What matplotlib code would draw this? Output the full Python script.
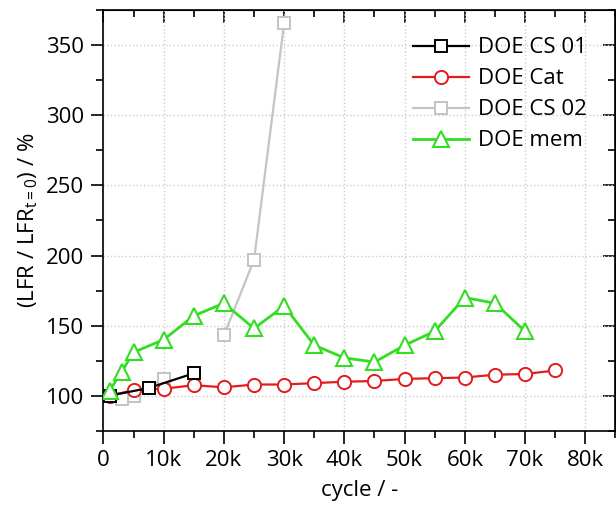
import numpy as np
import matplotlib.pyplot as plt
from matplotlib.ticker import MultipleLocator, FuncFormatter

plt.rcParams['font.family'] = ['Open Sans', 'DejaVu Sans']
plt.rcParams['mathtext.fontset'] = 'custom'
plt.rcParams['mathtext.rm'] = 'Open Sans'
plt.rcParams['mathtext.it'] = 'Open Sans'

# ─── datos ─────────────────────────────────────────────────
cs01_x = [1000, 7500, 15000]
cs01_y = [100, 105.5, 116]

cat_x = [1000, 5000, 10000, 15000, 20000, 25000, 30000, 35000, 40000,
         45000, 50000, 55000, 60000, 65000, 70000, 75000]
cat_y = [100, 104, 105, 107.5, 106, 108, 108, 109, 110,
         110.5, 112, 112.5, 113, 115, 115.5, 118]

cs02_x = [3000, 5000, 10000, 15000, 20000, 25000, 30000]
cs02_y = [98, 100, 112, np.nan, 143, 197, 366]

mem_x = [1000, 3000, 5000, 10000, 15000, 20000, 25000, 30000, 35000,
         40000, 45000, 50000, 55000, 60000, 65000, 70000]
mem_y = [103.5, 117, 131, 140, 157, 166, 148, 164, 136,
         127, 124, 136, 146, 170, 166, 146]

fig = plt.figure(figsize=(6.16, 5.08), dpi=100)
ax = fig.add_axes([0.168, 0.152, 0.831, 0.828])

estilo = dict(lw=1.6, ms=9, mew=1.4, mfc='white')
ax.plot(cs01_x, cs01_y, '-s', color='black', label='DOE CS 01', zorder=4, **estilo)
ax.plot(cat_x, cat_y, '-o', color='#e21c1c', label='DOE Cat', zorder=3,
        lw=1.6, ms=9.5, mew=1.4, mfc='white')
ax.plot(cs02_x, cs02_y, '-s', color='#c4c4c4', label='DOE CS 02', zorder=2, **estilo)
ax.plot(mem_x, mem_y, '-^', color='#33dd22', label='DOE mem', zorder=5,
        lw=2.0, ms=11, mew=1.5, mfc='white')

ax.set_xlim(0, 85000)
ax.set_ylim(75, 375)
ax.xaxis.set_major_locator(MultipleLocator(10000))
ax.xaxis.set_minor_locator(MultipleLocator(5000))
ax.yaxis.set_major_locator(MultipleLocator(50))
ax.yaxis.set_minor_locator(MultipleLocator(25))
ax.xaxis.set_major_formatter(FuncFormatter(
    lambda v, p: '0' if v == 0 else f'{int(v / 1000)}k'))

ax.tick_params(which='both', direction='out', labelsize=16, width=1.2)
ax.tick_params(which='major', length=9, pad=5)
ax.tick_params(which='minor', length=5)
for spine in ax.spines.values():
    spine.set_linewidth(1.2)

# ticks hacia dentro en los ejes superior y derecho
arriba = ax.secondary_xaxis('top')
derecha = ax.secondary_yaxis('right')
for sec in (arriba, derecha):
    sec.tick_params(which='both', direction='in', width=1.2, labelsize=0)
    sec.tick_params(which='major', length=9)
    sec.tick_params(which='minor', length=5)
arriba.xaxis.set_major_locator(MultipleLocator(10000))
arriba.xaxis.set_minor_locator(MultipleLocator(5000))
arriba.set_xticklabels([])
derecha.yaxis.set_major_locator(MultipleLocator(50))
derecha.yaxis.set_minor_locator(MultipleLocator(25))
derecha.set_yticklabels([])

ax.grid(which='major', color='#cccccc', ls=':', lw=1)

ax.set_xlabel('cycle / -', fontsize=16, labelpad=6)
ax.set_ylabel('(LFR / LFR$_{\\mathrm{t=0}}$) / %', fontsize=16, labelpad=4)

ax.legend(loc='upper right', bbox_to_anchor=(0.974, 0.972), frameon=False,
          fontsize=16, handlelength=2.5, labelspacing=0.45, handletextpad=0.4,
          borderaxespad=0.3)

plt.savefig('out.png', dpi=100)
